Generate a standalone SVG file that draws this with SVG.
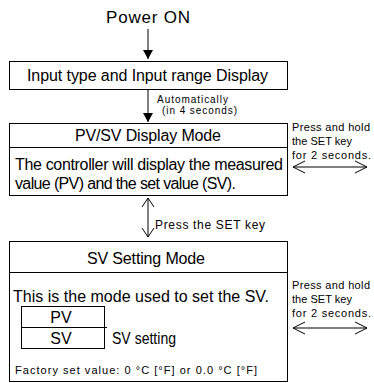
<svg xmlns="http://www.w3.org/2000/svg" width="374" height="383" viewBox="0 0 374 383">
<style>
text{font-family:"Liberation Sans",Arial,sans-serif;fill:#000}
.box{fill:#fff;stroke:#000;stroke-width:1}
.ln{stroke:#000;stroke-width:1;fill:none}
.t17{font-size:17px}
.t16{font-size:16px}
.t11{font-size:11px}
.t10{font-size:10px}
.m{text-anchor:middle}
</style>
<defs>
<marker id="ah" markerWidth="10" markerHeight="10" refX="9" refY="5" orient="auto" markerUnits="userSpaceOnUse" viewBox="0 0 10 10">
<path d="M0,0 L9,5 L0,10 Z" fill="#000"/>
</marker>
</defs>
<rect width="374" height="383" fill="#fff"/>
<g id="power">
<text class="t17" x="106" y="23" textLength="84" lengthAdjust="spacing">Power ON</text>
</g>
<g id="input-display">
<rect class="box" x="9.5" y="61.5" width="278" height="28"/>
<text class="t16" x="27" y="81" textLength="241" lengthAdjust="spacing">Input type and Input range Display</text>
</g>
<g id="pvsv-mode">
<rect class="box" x="9.5" y="123.5" width="278" height="72"/>
<line class="ln" x1="9.5" y1="147.5" x2="287.5" y2="147.5"/>
<text class="t16" x="75" y="141" textLength="146" lengthAdjust="spacing">PV/SV Display Mode</text>
<text class="t16" x="15" y="170" textLength="268" lengthAdjust="spacing">The controller will display the measured</text>
<text class="t16" x="15" y="189" textLength="221" lengthAdjust="spacing">value (PV) and the set value (SV).</text>
</g>
<g id="sv-setting">
<rect class="box" x="9.5" y="241.5" width="278" height="140"/>
<line class="ln" x1="9.5" y1="272.5" x2="288" y2="272.5"/>
<text class="t16" x="87" y="264" textLength="118" lengthAdjust="spacing">SV Setting Mode</text>
<text class="t16" x="13" y="302" textLength="256" lengthAdjust="spacing">This is the mode used to set the SV.</text>
<rect class="box" x="21.5" y="306.5" width="83" height="42"/>
<line class="ln" x1="21.5" y1="327.5" x2="107" y2="327.5"/>
<text class="t16 m" x="61" y="323">PV</text>
<text class="t16 m" x="61" y="344">SV</text>
<text class="t16" x="112" y="344" textLength="64" lengthAdjust="spacingAndGlyphs">SV setting</text>
<text style="font-size:11px" x="15" y="374" textLength="242" lengthAdjust="spacing">Factory set value: 0 °C [°F] or 0.0 °C [°F]</text>
</g>
<g id="side-labels">
<text class="t11" x="292" y="131" textLength="78" lengthAdjust="spacing">Press and hold</text>
<text class="t11" x="292" y="145" textLength="60" lengthAdjust="spacing">the SET key</text>
<text class="t11" x="292" y="159" textLength="79" lengthAdjust="spacing">for 2 seconds.</text>
<text class="t11" x="292" y="289" textLength="78" lengthAdjust="spacing">Press and hold</text>
<text class="t11" x="292" y="303" textLength="60" lengthAdjust="spacing">the SET key</text>
<text class="t11" x="292" y="317" textLength="79" lengthAdjust="spacing">for 2 seconds.</text>
<text class="t10" x="157" y="103" textLength="71" lengthAdjust="spacing">Automatically</text>
<text class="t10" x="162" y="114" textLength="75" lengthAdjust="spacing">(in 4 seconds)</text>
<text style="font-size:12px" x="155" y="229" textLength="110" lengthAdjust="spacing">Press the SET key</text>
</g>
<g id="connectors">
<line class="ln" x1="148" y1="29" x2="148" y2="59" marker-end="url(#ah)"/>
<line class="ln" x1="148" y1="90" x2="148" y2="122" marker-end="url(#ah)"/>
<path class="ln" d="M148,198 V237 M142,207 L148,198 L154,207 M142,228 L148,237 L154,228"/>
<path class="ln" d="M293,167 H367 M305,161 L293,167 L305,173 M355,161 L367,167 L355,173"/>
<path class="ln" d="M293,328 H367 M305,322 L293,328 L305,334 M355,322 L367,328 L355,334"/>
</g>
</svg>
